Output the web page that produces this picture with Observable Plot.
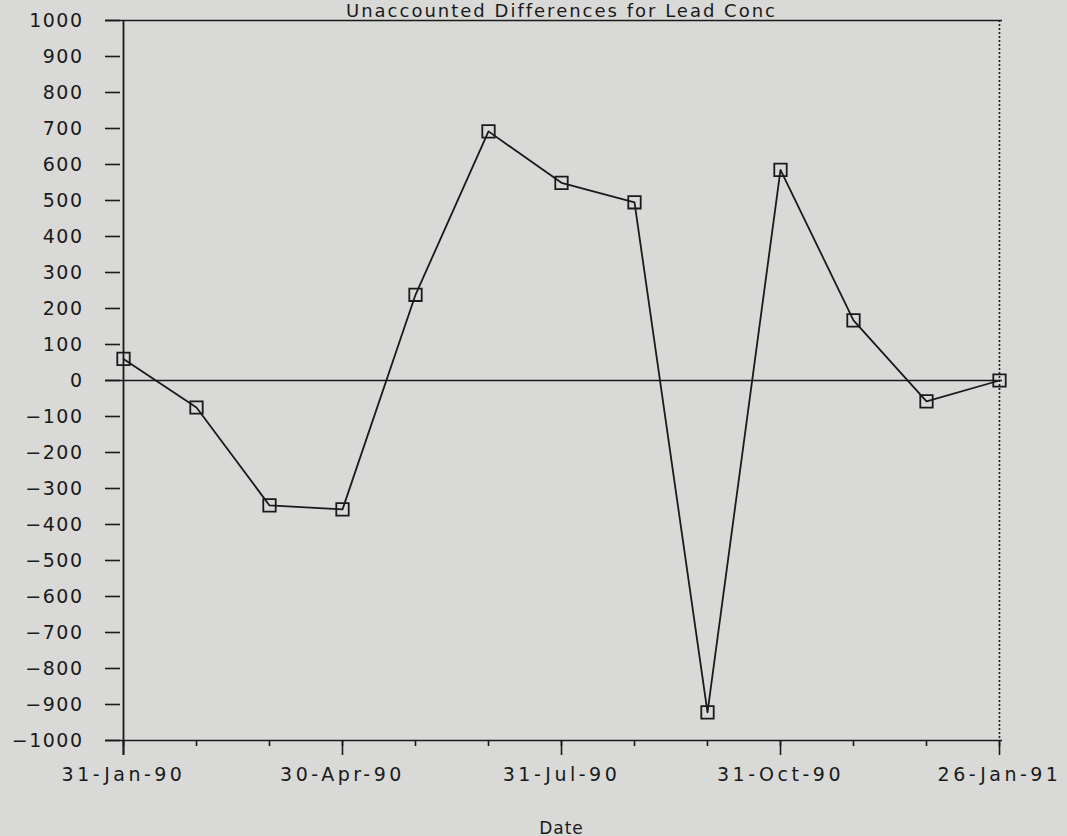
<!DOCTYPE html>
<html>
<head>
<meta charset="utf-8">
<script src="https://cdn.jsdelivr.net/npm/d3@7"></script>
<script src="https://cdn.jsdelivr.net/npm/@observablehq/plot@0.6"></script>
<style>
  html, body { margin: 0; padding: 0; background: #d9d9d7; }
  #chart svg { display: block; }
  g[aria-label="x-axis tick label"] text { letter-spacing: 3.5px; }
  g[aria-label="y-axis tick label"] text { letter-spacing: 1.5px; }
</style>
</head>
<body>
<div id="chart"></div>
<script>
const title = "Unaccounted Differences for Lead Conc";
const xLabel = "Date";
const dates = ["31-Jan-90","28-Feb-90","31-Mar-90","30-Apr-90","31-May-90","30-Jun-90","31-Jul-90","31-Aug-90","30-Sep-90","31-Oct-90","30-Nov-90","31-Dec-90","26-Jan-91"];
const values = [60, -75, -347, -358, 238, 692, 549, 495, -922, 585, 167, -58, 0];
const xTickLabels = ["31-Jan-90","30-Apr-90","31-Jul-90","31-Oct-90","26-Jan-91"];
const yTicks = [-1000,-900,-800,-700,-600,-500,-400,-300,-200,-100,0,100,200,300,400,500,600,700,800,900,1000];

const data = dates.map((d, i) => ({date: d, value: values[i]}));
const ink = "#1a1a1a";

const chart = Plot.plot({
  width: 1067,
  height: 836,
  marginLeft: 120,
  marginRight: 65,
  marginTop: 20,
  marginBottom: 96,
  style: {background: "#d9d9d7", fontFamily: "DejaVu Sans", fontSize: "19px", color: ink, overflow: "visible"},
  x: {type: "point", domain: dates, padding: 0},
  y: {domain: [-1000, 1000]},
  marks: [
    Plot.ruleY([1000, 0, -1000], {stroke: ink, strokeWidth: 1.6, insetLeft: -15}),
    Plot.ruleX([dates[0]], {stroke: ink, strokeWidth: 1.8, insetBottom: -15}),
    Plot.ruleX([dates[dates.length - 1]], {stroke: ink, strokeWidth: 1.6, strokeDasharray: "2,2"}),
    Plot.axisY({ticks: yTicks, tickSize: 15, tickPadding: 22, tickFormat: d3.format("d"), stroke: ink, strokeWidth: 1.6, strokeOpacity: 1, fill: ink, label: null}),
    Plot.axisX({ticks: dates, tickSize: 6, tickFormat: () => "", stroke: ink, strokeWidth: 1.6, strokeOpacity: 1, label: null}),
    Plot.axisX({ticks: xTickLabels, tickSize: 15, tickPadding: 12, stroke: ink, strokeWidth: 1.6, strokeOpacity: 1, fill: ink, label: null}),
    Plot.line(data, {x: "date", y: "value", stroke: ink, strokeWidth: 1.8}),
    Plot.dot(data, {x: "date", y: "value", symbol: "square", r: 7, stroke: ink, strokeWidth: 1.8, fill: "none"}),
    Plot.text([title], {frameAnchor: "top", dy: -4, lineAnchor: "bottom", fill: ink, fontSize: 18}),
    Plot.text([xLabel], {frameAnchor: "bottom", dy: 88, lineAnchor: "middle", fill: ink, fontSize: 17})
  ]
});
d3.select(chart).selectAll("text").filter(function() { return this.textContent === title; })
  .style("letter-spacing", "2px");
d3.select(chart).selectAll("text").filter(function() { return this.textContent === xLabel; })
  .style("letter-spacing", "1px");
document.getElementById("chart").appendChild(chart);
</script>
</body>
</html>
